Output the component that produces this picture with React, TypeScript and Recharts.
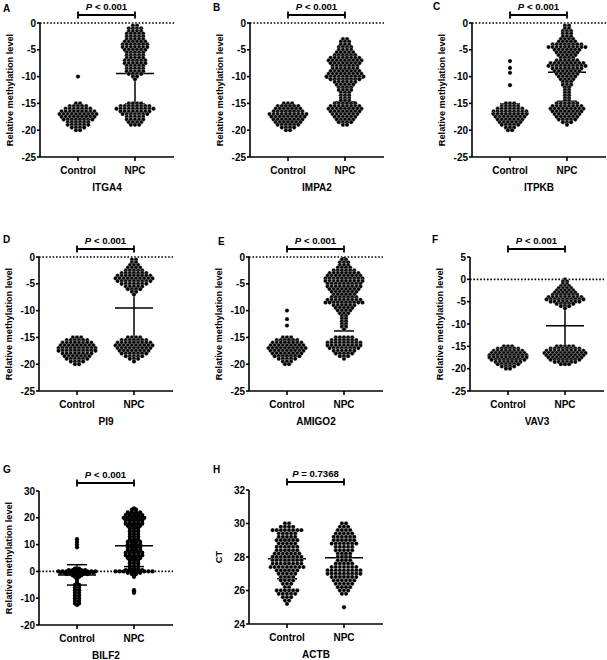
import React from "react";
import { ScatterChart, Scatter, XAxis, YAxis, ReferenceLine } from "recharts";

// each row: [value, number of samples drawn at that value]
type Row = [number, number];

const genes = ["ITGA4", "IMPA2", "ITPKB", "PI9", "AMIGO2", "VAV3", "BILF2", "ACTB"];
const letters = ["A", "B", "C", "D", "E", "F", "G", "H"];
const groups = ["Control", "NPC"];
const pOps = ["<", "<", "<", "<", "<", "<", "<", "="];
const pNums = ["0.001", "0.001", "0.001", "0.001", "0.001", "0.001", "0.001", "0.7368"];

const controlMeans = [-17.2, -17.3, -16.9, -17.3, -17.0, -17.2, -1.3, 27.9];
const controlSds = [0.9, 1.0, 1.8, 1.0, 1.4, 1.0, 3.8, 1.2];
const npcMeans = [-9.4, -10.3, -9.2, -9.5, -8.3, -10.4, 9.6, 27.95];
const npcSds = [5.7, 4.4, 5.4, 6.3, 5.5, 6.2, 7.8, 1.1];

const itga4Control: Row[] = [[-10, 1], [-15, 2], [-15.5, 5], [-16, 7], [-16.5, 9], [-17, 10], [-17.5, 9], [-18, 8], [-18.5, 6], [-19, 6], [-19.5, 4], [-20, 2]];
const itga4Npc: Row[] = [[-0.5, 2], [-1, 4], [-1.5, 4], [-2, 5], [-2.5, 5], [-3, 5], [-3.5, 6], [-4, 7], [-4.5, 7], [-5, 6], [-5.5, 5], [-6, 5], [-6.5, 5], [-7, 6], [-7.5, 6], [-8, 5], [-8.5, 5], [-9, 5], [-9.5, 4], [-10, 2], [-10.5, 1], [-15, 4], [-15.5, 8], [-16, 10], [-16.5, 8], [-17, 7], [-17.5, 5], [-18, 5], [-18.5, 4], [-19, 3]];

const impa2Control: Row[] = [[-15, 3], [-15.5, 6], [-16, 7], [-16.5, 8], [-17, 10], [-17.5, 9], [-18, 8], [-18.5, 7], [-19, 6], [-19.5, 4], [-20, 2]];
const impa2Npc: Row[] = [[-3, 2], [-3.5, 3], [-4, 3], [-4.5, 4], [-5, 4], [-5.5, 5], [-6, 6], [-6.5, 8], [-7, 9], [-7.5, 8], [-8, 7], [-8.5, 7], [-9, 8], [-9.5, 9], [-10, 10], [-10.5, 8], [-11, 6], [-11.5, 5], [-12, 4], [-12.5, 4], [-13, 3], [-13.5, 3], [-14, 3], [-14.5, 3], [-15, 6], [-15.5, 8], [-16, 9], [-16.5, 8], [-17, 7], [-17.5, 6], [-18, 5], [-18.5, 4], [-19, 2]];

const itpkbControl: Row[] = [[-7.1, 1], [-8.4, 1], [-9.3, 1], [-11.6, 1], [-15, 3], [-15.5, 5], [-16, 7], [-16.5, 9], [-17, 9], [-17.5, 8], [-18, 7], [-18.5, 6], [-19, 5], [-19.5, 3], [-20, 2]];
const itpkbNpc: Row[] = [[-0.5, 2], [-1, 2], [-1.5, 3], [-2, 3], [-2.5, 3], [-3, 4], [-3.5, 5], [-4, 8], [-4.5, 10], [-5, 7], [-5.5, 6], [-6, 5], [-6.5, 4], [-7, 6], [-7.5, 9], [-8, 10], [-8.5, 8], [-9, 7], [-9.5, 6], [-10, 5], [-10.5, 4], [-11, 3], [-11.5, 3], [-12, 2], [-12.5, 2], [-13, 2], [-13.5, 2], [-14, 2], [-14.5, 2], [-15, 6], [-15.5, 8], [-16, 9], [-16.5, 8], [-17, 7], [-17.5, 6], [-18, 5], [-18.5, 3], [-19, 1]];

const pi9Control: Row[] = [[-15, 3], [-15.5, 6], [-16, 8], [-16.5, 9], [-17, 10], [-17.5, 10], [-18, 8], [-18.5, 7], [-19, 6], [-19.5, 4], [-20, 2]];
const pi9Npc: Row[] = [[-0.5, 2], [-1, 2], [-1.5, 3], [-2, 4], [-2.5, 5], [-3, 7], [-3.5, 9], [-4, 10], [-4.5, 9], [-5, 7], [-5.5, 5], [-6, 4], [-6.5, 2], [-7, 1], [-15, 4], [-15.5, 7], [-16, 9], [-16.5, 10], [-17, 9], [-17.5, 8], [-18, 7], [-18.5, 5], [-19, 3], [-19.5, 1]];

const amigo2Control: Row[] = [[-10, 1], [-11.6, 1], [-12.8, 1], [-15, 3], [-15.5, 6], [-16, 8], [-16.5, 9], [-17, 10], [-17.5, 9], [-18, 8], [-18.5, 7], [-19, 5], [-19.5, 3], [-20, 2]];
const amigo2Npc: Row[] = [[0, 1], [-0.5, 2], [-1, 3], [-1.5, 3], [-2, 4], [-2.5, 6], [-3, 8], [-3.5, 9], [-4, 10], [-4.5, 10], [-5, 9], [-5.5, 9], [-6, 8], [-6.5, 7], [-7, 6], [-7.5, 7], [-8, 9], [-8.5, 10], [-9, 6], [-9.5, 5], [-10, 4], [-10.5, 3], [-11, 2], [-11.5, 2], [-12, 2], [-12.5, 2], [-13, 2], [-13.5, 1], [-15, 5], [-15.5, 7], [-16, 9], [-16.5, 9], [-17, 8], [-17.5, 6], [-18, 5], [-18.5, 3], [-19, 1]];

const vav3Control: Row[] = [[-15, 3], [-15.5, 6], [-16, 8], [-16.5, 9], [-17, 10], [-17.5, 10], [-18, 9], [-18.5, 7], [-19, 6], [-19.5, 4], [-20, 2]];
const vav3Npc: Row[] = [[0, 1], [-0.5, 2], [-1, 2], [-1.5, 3], [-2, 4], [-2.5, 5], [-3, 6], [-3.5, 7], [-4, 9], [-4.5, 10], [-5, 8], [-5.5, 5], [-6, 3], [-6.5, 1], [-15, 5], [-15.5, 8], [-16, 10], [-16.5, 11], [-17, 10], [-17.5, 9], [-18, 8], [-18.5, 6], [-19, 3]];

const bilf2Control: Row[] = [[12, 1], [11, 1], [10, 1], [9, 1], [1, 2], [0.5, 5], [0, 10], [-0.5, 9], [-1, 6], [-1.5, 3], [-2, 2], [-3, 1], [-4, 1], [-5, 2], [-6, 2], [-7, 2], [-8, 2], [-9, 2], [-10, 2], [-11, 2], [-12, 2], [-12.5, 1]];
const bilf2Npc: Row[] = [[23.5, 1], [23, 2], [22, 4], [21, 5], [20, 6], [19, 5], [18, 5], [17, 4], [16, 3], [15, 3], [14, 3], [13, 3], [12, 3], [11, 4], [10, 4], [9, 4], [8, 4], [7, 5], [6, 5], [5, 4], [4, 3], [3, 3], [2, 3], [1, 3], [0.5, 5], [0, 10], [-0.5, 4], [-1, 2], [-2, 1], [-7, 1], [-7.5, 1], [-8, 1]];

const actbControl: Row[] = [[30, 2], [29.8, 4], [29.6, 8], [29.4, 5], [29.2, 5], [29, 6], [28.8, 5], [28.6, 6], [28.4, 6], [28.2, 7], [28, 8], [27.8, 8], [27.6, 8], [27.4, 9], [27.2, 6], [27, 5], [26.8, 4], [26.6, 4], [26.4, 3], [26.2, 2], [26, 6], [25.8, 5], [25.6, 3], [25.4, 2], [25.2, 1]];
const actbNpc: Row[] = [[30, 2], [29.8, 3], [29.6, 4], [29.4, 5], [29.2, 6], [29, 6], [28.8, 7], [28.6, 5], [28.4, 5], [28.2, 4], [28, 4], [27.8, 4], [27.6, 5], [27.4, 7], [27.2, 9], [27, 9], [26.8, 7], [26.6, 6], [26.4, 5], [26.2, 4], [26, 3], [25.8, 2], [25, 1]];

const FONT = '"Liberation Sans", Arial, Helvetica, sans-serif';
const PLOT_W = 134;
const PLOT_H = 134;
const Y_AXIS_W = 40;
const TOP = 22;
const X_AXIS_H = 38;
const RIGHT = 1;
const GROUP_X = [38, 95];
const DOT_GAP = 4.1;

const methylTicks = [-25, -20, -15, -10, -5, 0];

const panels = [
  { data: [itga4Control, itga4Npc], axisX: 40, plotTop: 23, lx: 3, ly: 8.5, domain: [-25, 0], ticks: methylTicks, yLabel: "Relative methylation level", zero: true, ring: 0.3 },
  { data: [impa2Control, impa2Npc], axisX: 250, plotTop: 23, lx: 213, ly: 7, domain: [-25, 0], ticks: methylTicks, yLabel: "Relative methylation level", zero: true, ring: 0.3 },
  { data: [itpkbControl, itpkbNpc], axisX: 472, plotTop: 23, lx: 433, ly: 6.5, domain: [-25, 0], ticks: methylTicks, yLabel: "Relative methylation level", zero: true, ring: 0.3 },
  { data: [pi9Control, pi9Npc], axisX: 39, plotTop: 257, lx: 3, ly: 239.5, domain: [-25, 0], ticks: methylTicks, yLabel: "Relative methylation level", zero: true, ring: 0.3 },
  { data: [amigo2Control, amigo2Npc], axisX: 249, plotTop: 257, lx: 218, ly: 241, domain: [-25, 0], ticks: methylTicks, yLabel: "Relative methylation level", zero: true, ring: 0.3 },
  { data: [vav3Control, vav3Npc], axisX: 470, plotTop: 257, lx: 432, ly: 239.5, domain: [-25, 5], ticks: [-25, -20, -15, -10, -5, 0, 5], yLabel: "Relative methylation level", zero: true, ring: 0.3 },
  { data: [bilf2Control, bilf2Npc], axisX: 39, plotTop: 491, lx: 3, ly: 469.5, domain: [-20, 30], ticks: [-20, -10, 0, 10, 20, 30], yLabel: "Relative methylation level", zero: true, ring: 0 },
  { data: [actbControl, actbNpc], axisX: 249, plotTop: 490, lx: 213, ly: 469, domain: [24, 32], ticks: [24, 26, 28, 30, 32], yLabel: "CT", zero: false, ring: 0.3 },
];

function swarm(rows: Row[], cx: number) {
  const pts: { x: number; y: number }[] = [];
  rows.forEach(([value, count]) => {
    for (let i = 0; i < count; i++) {
      pts.push({ x: cx + (i - (count - 1) / 2) * DOT_GAP, y: value });
    }
  });
  return pts;
}

function Bracket(props: any) {
  const { x1, x2, y1, op, num } = props;
  const y = y1 - 8;
  return (
    <g>
      <line x1={x1} y1={y} x2={x2} y2={y} stroke="#000" strokeWidth={1.8} />
      <line x1={x1} y1={y - 3.5} x2={x1} y2={y + 3.5} stroke="#000" strokeWidth={1.8} />
      <line x1={x2} y1={y - 3.5} x2={x2} y2={y + 3.5} stroke="#000" strokeWidth={1.8} />
      <text x={(x1 + x2) / 2} y={y1 - 13} textAnchor="middle" fontSize={9.6} fontWeight={700} fontFamily={FONT} fill="#000">
        <tspan fontStyle="italic">P</tspan> {op} {num}
      </text>
    </g>
  );
}

const axisStroke = { stroke: "#000", strokeWidth: 1.6 };
const tickStyle = { fontSize: 10, fontWeight: 700, fill: "#000", fontFamily: FONT };

function Panel({ idx }: { idx: number }) {
  const p = panels[idx];
  const means = [controlMeans[idx], npcMeans[idx]];
  const sds = [controlSds[idx], npcSds[idx]];
  const top = p.domain[1];
  const Dot = (d: any) => (
    <circle cx={d.cx} cy={d.cy} r={2.15} fill="#000" stroke={p.ring ? "#fff" : "none"} strokeWidth={p.ring} />
  );
  return (
    <div style={{ position: "absolute", left: p.axisX - Y_AXIS_W, top: p.plotTop - TOP }}>
      <ScatterChart
        width={Y_AXIS_W + PLOT_W + RIGHT}
        height={TOP + PLOT_H + X_AXIS_H}
        margin={{ top: TOP, right: RIGHT, bottom: 0, left: 0 }}
      >
        <XAxis
          type="number"
          dataKey="x"
          domain={[0, PLOT_W]}
          ticks={GROUP_X}
          interval={0}
          allowDataOverflow
          tickFormatter={(v: number) => groups[GROUP_X.indexOf(v)]}
          tick={tickStyle}
          tickSize={4}
          tickMargin={6}
          axisLine={axisStroke}
          tickLine={axisStroke}
          height={X_AXIS_H}
          label={{ value: genes[idx], position: "insideBottom", offset: 4, style: { ...tickStyle } }}
        />
        <YAxis
          type="number"
          dataKey="y"
          domain={p.domain}
          ticks={p.ticks}
          interval={0}
          allowDataOverflow
          width={Y_AXIS_W}
          tick={tickStyle}
          tickSize={3}
          tickMargin={1}
          axisLine={axisStroke}
          tickLine={axisStroke}
          label={{
            value: p.yLabel,
            angle: -90,
            position: "insideLeft",
            offset: 10,
            style: { ...tickStyle, fontSize: 9.2, textAnchor: "middle" },
          }}
        />
        {p.zero && <ReferenceLine y={0} stroke="#000" strokeWidth={1.6} strokeDasharray="1.6 1.8" />}
        {p.data.map((rows, g) => (
          <Scatter key={g} data={swarm(rows, GROUP_X[g])} shape={Dot} isAnimationActive={false} />
        ))}
        {GROUP_X.map((cx, g) => (
          <ReferenceLine key={"m" + g} segment={[{ x: cx - 19, y: means[g] }, { x: cx + 19, y: means[g] }]} stroke="#000" strokeWidth={1.5} ifOverflow="visible" />
        ))}
        {GROUP_X.map((cx, g) => (
          <ReferenceLine key={"v" + g} segment={[{ x: cx, y: means[g] - sds[g] }, { x: cx, y: means[g] + sds[g] }]} stroke="#000" strokeWidth={1.5} ifOverflow="visible" />
        ))}
        {GROUP_X.map((cx, g) => (
          <ReferenceLine key={"u" + g} segment={[{ x: cx - 10, y: means[g] + sds[g] }, { x: cx + 10, y: means[g] + sds[g] }]} stroke="#000" strokeWidth={1.5} ifOverflow="visible" />
        ))}
        {GROUP_X.map((cx, g) => (
          <ReferenceLine key={"l" + g} segment={[{ x: cx - 10, y: means[g] - sds[g] }, { x: cx + 10, y: means[g] - sds[g] }]} stroke="#000" strokeWidth={1.5} ifOverflow="visible" />
        ))}
        <ReferenceLine
          segment={[{ x: GROUP_X[0], y: top }, { x: GROUP_X[1], y: top }]}
          ifOverflow="visible"
          shape={(s: any) => <Bracket {...s} op={pOps[idx]} num={pNums[idx]} />}
        />
      </ScatterChart>
      <div
        style={{
          position: "absolute",
          left: p.lx - (p.axisX - Y_AXIS_W),
          top: p.ly - 5.5 - (p.plotTop - TOP),
          fontFamily: FONT,
          fontWeight: 700,
          fontSize: 10,
          lineHeight: "11px",
          color: "#000",
        }}
      >
        {letters[idx]}
      </div>
    </div>
  );
}

export default function App() {
  return (
    <div style={{ position: "absolute", left: 0, top: 0, width: 607, height: 660, background: "#fff", overflow: "hidden" }}>
      {panels.map((_, i) => (
        <Panel key={i} idx={i} />
      ))}
    </div>
  );
}
